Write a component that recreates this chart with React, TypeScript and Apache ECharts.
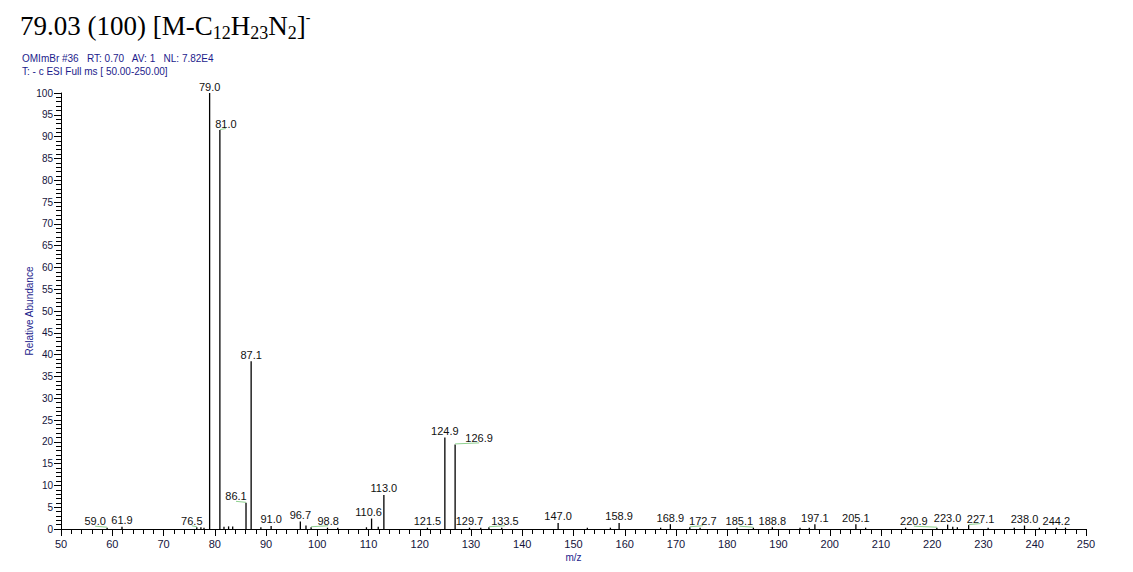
import React, { useEffect, useRef } from "react";
import * as echarts from "echarts";

// Labelled peaks (m/z, relative abundance %)
const labeledMz = [59.0, 61.9, 76.5, 79.0, 81.0, 86.1, 87.1, 91.0, 96.7, 98.8, 110.6, 113.0, 121.5, 124.9, 126.9, 129.7, 133.5, 147.0, 158.9, 168.9, 172.7, 185.1, 188.8, 197.1, 205.1, 220.9, 223.0, 227.1, 238.0, 244.2];
const labeledAbundance = [0.3, 0.5, 0.4, 100, 91.5, 6.0, 38.5, 0.7, 1.7, 0.4, 2.4, 7.8, 0.3, 21.0, 19.4, 0.3, 0.4, 1.4, 1.4, 1.1, 0.4, 0.3, 0.4, 1.1, 1.1, 0.3, 1.0, 0.9, 0.8, 0.3];

// Small unlabelled peaks
const minorMz = [77.3, 77.9, 81.8, 82.7, 83.5, 89.0, 97.8, 102.0, 104.0, 109.6, 111.9, 131.9, 136.0, 152.7, 157.2, 167.0, 174.7, 181.9, 194.2, 196.0, 207.0, 214.8, 224.0, 224.9, 230.9, 236.0, 240.9, 246.0];
const minorAbundance = [0.4, 0.3, 0.5, 0.6, 0.6, 0.4, 0.8, 0.3, 0.3, 0.4, 0.5, 0.3, 0.3, 0.3, 0.3, 0.3, 0.3, 0.3, 0.3, 0.3, 0.3, 0.3, 0.5, 0.4, 0.3, 0.3, 0.3, 0.3];

// Axis ranges / ticks
const xMin = 50, xMax = 250, xInterval = 10;
const yMin = 0, yMax = 100, yInterval = 5;

const titleText = "79.03 (100) [M-C12H23N2]-";
const headerLine1 = "OMImBr #36   RT: 0.70   AV: 1   NL: 7.82E4";
const headerLine2 = "T: - c ESI Full ms [ 50.00-250.00]";
const xName = "m/z";
const yName = "Relative Abundance";

// horizontal label displacement (px) used by the original software
const labelShift: Record<string, number> = {
  "59.0": -12, "76.5": -5, "81.0": 6, "86.1": -10, "98.8": 17, "110.6": -3,
  "126.9": 24, "133.5": 16, "172.7": 13, "185.1": -14, "220.9": -23, "227.1": 12,
};

const SANS = "'Liberation Sans', Arial, sans-serif";
const SERIF = "'Liberation Serif', 'Times New Roman', serif";
const NAVY = "#1c1c8c";
const TICK = "#14143c";

export default function App() {
  const ref = useRef<HTMLDivElement>(null);
  useEffect(() => {
    document.body.style.margin = "0";
    const chart = echarts.init(ref.current!, undefined, { renderer: "svg" });

    const makeRender = (withLabel: boolean) => (params: any, api: any) => {
      const mz = api.value(0);
      const ab = api.value(1);
      const base = api.coord([mz, 0]);
      const top = api.coord([mz, ab]);
      const children: any[] = [
        {
          type: "line",
          shape: { x1: base[0], y1: base[1], x2: top[0], y2: top[1] },
          style: { stroke: "#000", lineWidth: 1.3 },
        },
      ];
      if (withLabel) {
        const key = Number(mz).toFixed(1);
        const shift = labelShift[key] || 0;
        if (Math.abs(shift) > 3) {
          children.push({
            type: "line",
            shape: { x1: top[0], y1: top[1] - 0.5, x2: top[0] + shift, y2: top[1] - 1.5 },
            style: { stroke: "#8fd18f", lineWidth: 1 },
          });
        }
        children.push({
          type: "text",
          x: top[0] + shift,
          y: top[1] - 1,
          style: {
            text: key,
            fill: "#111",
            font: `11px ${SANS}`,
            align: "center",
            verticalAlign: "bottom",
          },
        });
      }
      return { type: "group", children };
    };

    chart.setOption({
      animation: false,
      backgroundColor: "#fff",
      grid: { left: 61, right: 47, top: 93, bottom: 43, containLabel: false },
      xAxis: {
        type: "value",
        min: xMin,
        max: xMax,
        interval: xInterval,
        name: xName,
        nameLocation: "middle",
        nameGap: 23,
        nameMoveOverlap: false,
        nameTextStyle: { color: NAVY, fontFamily: SANS, fontSize: 10 },
        axisLine: { show: true, lineStyle: { color: "#000", width: 1 } },
        axisTick: { show: true, length: 7, lineStyle: { color: "#000" } },
        minorTick: { show: true, splitNumber: 5, length: 5, lineStyle: { color: "#000" } },
        splitLine: { show: false },
        axisLabel: { color: TICK, fontFamily: SANS, fontSize: 11, margin: 9 },
      },
      yAxis: {
        type: "value",
        min: yMin,
        max: yMax,
        interval: yInterval,
        name: yName,
        nameLocation: "middle",
        nameRotate: 90,
        nameGap: 27,
        nameMoveOverlap: false,
        nameTextStyle: { color: NAVY, fontFamily: SANS, fontSize: 10 },
        axisLine: { show: true, lineStyle: { color: "#000", width: 1 } },
        axisTick: { show: true, length: 7, lineStyle: { color: "#000" } },
        minorTick: { show: true, splitNumber: 5, length: 5, lineStyle: { color: "#000" } },
        splitLine: { show: false },
        axisLabel: { color: TICK, fontFamily: SANS, fontSize: 10, margin: 8 },
      },
      series: [
        {
          type: "custom",
          renderItem: makeRender(false),
          data: minorMz.map((m, i) => [m, minorAbundance[i]]),
          clip: false,
        },
        {
          type: "custom",
          renderItem: makeRender(true),
          data: labeledMz.map((m, i) => [m, labeledAbundance[i]]),
          clip: false,
        },
      ],
      graphic: [
        {
          type: "text",
          left: 20,
          top: 10,
          style: {
            text: "{m|79.03 (100) [M-C}{s|12}{m|H}{s|23}{m|N}{s|2}{m|]}{p|-}",
            rich: {
              m: { font: `27px ${SERIF}`, fill: "#000", lineHeight: 32, verticalAlign: "bottom", padding: [0, 0, 3, 0] },
              s: { font: `18px ${SERIF}`, fill: "#000", lineHeight: 22, verticalAlign: "bottom" },
              p: { font: `14px ${SERIF}`, fill: "#000", lineHeight: 14, verticalAlign: "top" },
            },
          },
          info: titleText,
        },
        {
          type: "text",
          left: 22,
          top: 53,
          style: { text: headerLine1, font: `10px ${SANS}`, fill: NAVY },
        },
        {
          type: "text",
          left: 22,
          top: 66,
          style: { text: headerLine2, font: `10px ${SANS}`, fill: NAVY },
        },
      ],
    });
    return () => chart.dispose();
  }, []);
  return <div ref={ref} style={{ width: 1133, height: 572 }} />;
}
